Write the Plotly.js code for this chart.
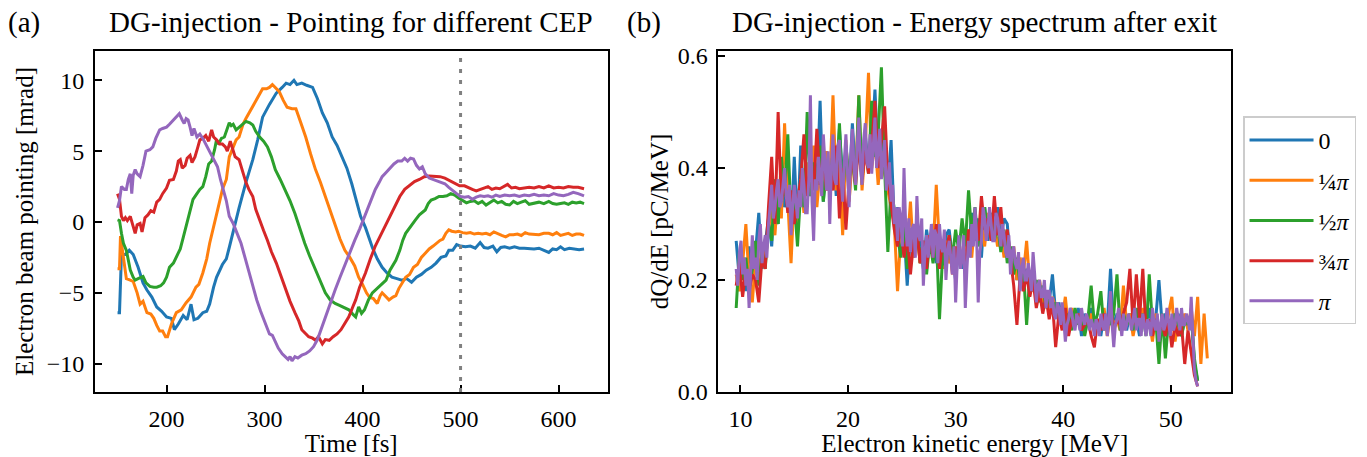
<!DOCTYPE html>
<html><head><meta charset="utf-8">
<script src="https://cdn.plot.ly/plotly-3.0.1.min.js"></script>
<style>html,body{margin:0;padding:0;background:#fff;} #chart{width:1367px;height:457px;}</style>
</head><body><div id="chart"></div>
<script>
// ---------- (a) pointing vs time ----------
const time0 = [150,152,154,158,162,166,171,176,180,185, 190,195,200,205,208,212,217,221,225,228, 232,237,241,244,248,251,257,261,264,268, 274,281,288,293,298,305,312,318,322,326, 330,333,338,343,349,354,359,364,369,374, 379,384,389,394,398,403,410,415,420,425, 430,435,440,445,450,455,460,465,470,475, 480,485,488,492,496,500,505,510,515,520, 524,528,533,537,541,545,550,555,560,565, 570,575,580,585,590,594,598,602,606,611, 616,621,626];
const point0 = [-6.4,-6.4,-2.3,-2.3,-2.0,-2.3,-3.2,-4.3,-4.8,-5.3, -6.0,-6.3,-6.7,-6.8,-7.6,-7.2,-6.6,-6.9,-5.8,-6.9, -6.8,-6.4,-6.3,-5.8,-4.6,-3.9,-3.0,-2.6,-1.8,-0.6, 1.0,2.8,4.4,5.8,7.4,8.3,9.1,9.5,9.8,9.7, 10.0,9.7,9.8,9.65,9.5,8.7,7.7,7.0,6.0,5.4, 4.6,3.8,2.7,1.4,0.4,-0.4,-1.8,-2.6,-3.2,-3.6, -3.9,-4.0,-4.1,-4.0,-4.25,-3.9,-3.7,-3.4,-3.2,-2.9, -2.5,-2.4,-2.0,-2.0,-1.6,-1.7,-1.75,-1.7,-1.85,-1.45, -1.8,-1.85,-1.7,-2.1,-1.8,-1.75,-1.85,-1.75,-1.85,-1.85, -1.9,-1.9,-1.85,-2.0,-2.15,-1.9,-1.95,-1.75,-1.95,-1.85, -1.9,-1.95,-1.9];

const time1 = [150,152,153,156,159,163,166,170,173,176, 180,184,187,190,193,196,199,201,205,210, 215,220,225,230,233,237,241,244,248,251, 254,257,261,264,268,271,274,278,281,285, 290,295,298,302,305,308,312,315,319,323, 328,332,337,342,347,352,357,362,367,372, 377,382,387,392,396,400,404,407,411,415, 418,420,424,427,431,434,437,441,444,448, 452,456,460,464,468,472,475,479,482,485, 488,491,495,498,502,506,510,514,518,522, 526,530,534,538,542,546,550,554,558,562, 566,570,575,580,585,590,594,598,602,606, 610,614,618,622,626];
const point1 = [-3.3,-3.3,-1.0,-2.5,-4.0,-4.1,-4.2,-5.0,-5.8,-5.6, -6.4,-6.5,-6.8,-7.3,-7.7,-7.7,-8.1,-8.1,-7.2,-6.4, -6.2,-5.7,-5.3,-4.6,-4.4,-3.6,-2.6,-1.5,-0.4,0.6, 1.4,2.3,3.0,4.6,5.3,5.8,6.0,6.9,7.3,7.8, 8.4,9.1,9.4,9.4,9.5,9.7,9.4,9.2,8.6,8.1, 8.0,8.0,7.0,6.0,4.8,3.7,2.8,1.8,0.7,-0.3, -1.2,-2.0,-2.5,-3.1,-3.9,-4.4,-5.0,-5.3,-5.4,-5.75, -5.2,-5.0,-5.3,-5.5,-5.3,-5.2,-4.7,-4.2,-3.9,-3.7, -3.2,-3.0,-2.5,-2.2,-1.9,-1.7,-1.5,-1.3,-1.2,-0.8, -0.55,-0.65,-0.7,-0.65,-0.75,-0.8,-0.75,-0.85,-0.8,-0.85, -0.8,-0.9,-0.7,-0.85,-0.95,-1.05,-0.9,-0.9,-0.85,-0.95, -0.75,-0.85,-0.85,-0.9,-0.8,-0.8,-0.9,-0.75,-0.95,-0.9, -0.8,-0.95,-0.85,-0.85,-0.95];

const time2 = [150,152,154,156,159,161,163,166,168,171, 174,176,179,183,187,190,194,197,200,203, 207,210,214,217,220,224,227,231,234,237, 240,243,246,249,251,253,256,259,262,264, 266,268,271,274,277,281,285,288,291,295, 299,303,307,311,316,321,326,331,336,341, 346,352,357,362,367,372,377,382,386,390, 393,396,399,402,406,410,413,417,421,424, 428,431,434,438,441,444,448,451,454,458, 461,464,467,470,474,478,482,486,490,494, 498,502,506,510,514,518,522,526,530,534, 538,542,546,550,554,558,562,566,570,575, 580,585,590,594,598,602,606,610,614,618, 622,626];
const point2 = [0.15,0.1,-0.8,-1.5,-2.0,-2.8,-3.4,-3.9,-4.1,-4.0, -3.9,-3.85,-4.3,-4.55,-4.6,-4.6,-4.5,-4.3,-3.9,-3.2, -2.9,-2.45,-1.9,-1.1,-0.3,0.8,1.6,2.0,2.3,2.5, 3.2,4.1,4.3,5.1,5.8,5.5,5.9,6.0,6.6,7.0, 6.8,6.9,6.5,6.7,6.9,7.1,7.0,6.85,6.4,6.0, 5.7,5.3,4.6,3.7,3.0,2.3,1.5,0.6,-0.5,-1.5, -2.4,-3.4,-4.2,-5.0,-5.5,-5.75,-5.9,-6.1,-6.2,-6.5, -6.7,-6.0,-6.45,-6.2,-5.5,-5.0,-4.8,-4.5,-4.3,-4.1, -3.4,-3.0,-2.7,-2.0,-1.3,-0.8,-0.4,-0.1,0.15,0.5, 0.7,0.85,1.3,1.55,1.65,1.8,1.8,1.85,2.0,1.9, 1.7,1.55,1.35,1.45,1.5,1.3,1.45,1.2,1.4,1.55, 1.35,1.45,1.25,1.2,1.45,1.3,1.4,1.5,1.25,1.35, 1.4,1.3,1.45,1.3,1.25,1.3,1.35,1.25,1.4,1.35, 1.4,1.3];

const time3 = [150,152,154,156,158,160,163,166,168,170, 173,175,178,181,184,187,190,193,196,200, 203,207,210,212,214,216,219,221,224,226, 229,232,234,237,240,243,246,248,251,254, 257,260,262,265,268,270,274,277,281,284, 288,291,295,299,303,307,312,316,321,326, 331,335,338,342,345,349,352,355,359,362, 366,370,374,378,382,386,390,393,397,400, 403,408,413,418,423,428,433,438,443,448, 453,458,463,468,474,479,484,489,494,499, 504,508,512,516,520,524,528,532,536,540, 545,548,552,556,560,565,570,575,580,585, 590,595,600,605,610,615,620,626];
const point3 = [2.0,1.6,0.4,0.1,0.3,0.1,0.4,-0.3,-0.8,-0.2, -0.1,-0.7,0.3,0.5,0.8,0.7,1.4,1.6,2.0,2.4, 2.95,3.0,3.6,4.3,4.4,3.8,4.0,4.5,4.7,4.2, 4.6,5.3,5.8,5.9,6.1,5.7,6.5,6.0,5.8,5.5, 5.5,5.3,5.0,5.7,5.0,4.6,4.4,3.7,2.8,2.3, 1.8,0.9,0.1,-0.6,-1.3,-2.1,-2.9,-3.7,-4.7,-5.6, -6.4,-7.0,-7.6,-7.9,-8.1,-8.2,-8.35,-8.1,-8.6,-8.3, -8.35,-8.1,-7.9,-7.6,-7.1,-6.7,-6.0,-5.5,-4.6,-4.1, -3.6,-2.6,-1.7,-1.0,-0.3,0.4,1.1,1.8,2.3,2.6, 2.85,3.0,3.2,3.25,3.25,3.2,3.1,2.9,2.7,2.55, 2.55,2.4,2.3,2.2,2.3,2.4,2.5,2.3,2.4,2.35, 2.55,2.65,2.4,2.45,2.35,2.4,2.45,2.4,2.5,2.4, 2.55,2.4,2.45,2.4,2.5,2.45,2.45,2.35];

const time4 = [150,152,154,157,159,161,163,164.5,166,168, 170,173,176,179,183,186,189,193,196,200, 203,207,210,213,216,218,220,222,224,226, 228,231,234,237,240,243,246,249,252,255, 258,261,264,268,272,276,280,284,288,292, 296,300,303,305,308,311,314,318,321,324, 326,328,331,334,338,342,346,350,354,358, 362,367,372,377,382,387,392,397,401,405, 409,413,417,420,424,428,432,436,440,443, 446,449,452,455,458,461,464,468,472,476, 480,484,488,492,496,500,504,508,512,516, 520,524,528,532,536,540,545,550,555,560, 565,570,575,580,585,590,595,600,605,610, 615,620,626];
const point4 = [1.0,1.5,2.5,2.3,2.3,3.0,3.4,2.0,3.3,3.7, 3.4,3.2,4.0,5.0,5.1,5.3,5.9,6.5,6.6,6.7, 6.9,7.2,7.4,7.65,7.2,6.95,7.3,7.2,6.7,6.1, 6.6,6.0,6.2,5.9,5.5,5.1,4.6,4.3,3.9,3.0, 2.2,1.5,0.4,-0.1,-0.8,-1.5,-2.5,-3.5,-4.5,-5.5, -6.3,-7.0,-7.6,-7.9,-8.0,-8.5,-8.9,-9.3,-9.5,-9.7, -9.5,-9.8,-9.5,-9.6,-9.4,-9.3,-9.1,-8.8,-8.3,-7.5, -6.7,-5.7,-4.8,-3.9,-3.0,-2.1,-1.3,-0.5,0.2,0.8, 1.6,2.3,2.8,3.2,3.5,3.8,4.1,4.3,4.3,4.5, 4.3,4.5,4.45,4.0,3.75,3.9,3.4,3.1,3.0,2.9, 2.8,2.7,2.45,2.2,2.0,1.8,1.75,1.8,1.6,1.75, 1.85,1.8,1.85,1.75,1.9,1.8,1.9,1.85,1.9,1.8, 1.9,1.85,1.95,1.85,1.9,1.85,2.0,1.9,1.85,1.95, 2.1,2.0,1.85];

const exitTime = 500;

// ---------- (b) energy spectra ----------
const energy = [9.6,9.9,10.2,10.5,10.8,11.1,11.4,11.7,12.0,12.3, 12.6,12.9,13.2,13.5,13.8,14.1,14.4,14.7,15.0,15.3, 15.6,15.9,16.2,16.5,16.8,17.1,17.4,17.7,18.0,18.3, 18.6,18.9,19.2,19.5,19.8,20.1,20.4,20.7,21.0,21.3, 21.6,21.9,22.2,22.5,22.8,23.1,23.4,23.7,24.0,24.3, 24.6,24.9,25.2,25.5,25.8,26.1,26.4,26.7,27.0,27.3, 27.6,27.9,28.2,28.5,28.8,29.1,29.4,29.7,30.0,30.3, 30.6,30.9,31.2,31.5,31.8,32.1,32.4,32.7,33.0,33.3, 33.6,33.9,34.2,34.5,34.8,35.1,35.4,35.7,36.0,36.3, 36.6,36.9,37.2,37.5,37.8,38.1,38.4,38.7,39.0,39.3, 39.6,39.9,40.2,40.5,40.8,41.1,41.4,41.7,42.0,42.3, 42.6,42.9,43.2,43.5,43.8,44.1,44.4,44.7,45.0,45.3, 45.6,45.9,46.2,46.5,46.8,47.1,47.4,47.7,48.0,48.3, 48.6,48.9,49.2,49.5,49.8,50.1,50.4,50.7,51.0,51.3, 51.6,51.9,52.2,52.5,52.8,53.1,53.4];

const energyFine = [9.6,9.75,9.9,10.05,10.2,10.35,10.5,10.65,10.8,10.95,11.1,11.25,11.4,11.55,11.7,11.85,12.0,12.15,12.3,12.45,
 12.6,12.75,12.9,13.05,13.2,13.35,13.5,13.65,13.8,13.95,14.1,14.25,14.4,14.55,14.7,14.85,15.0,15.15,15.3,15.45,
 15.6,15.75,15.9,16.05,16.2,16.35,16.5,16.65,16.8,16.95,17.1,17.25,17.4,17.55,17.7,17.85,18.0,18.15,18.3,18.45,
 18.6,18.75,18.9,19.05,19.2,19.35,19.5,19.65,19.8,19.95,20.1,20.25,20.4,20.55,20.7,20.85,21.0,21.15,21.3,21.45,
 21.6,21.75,21.9,22.05,22.2,22.35,22.5,22.65,22.8,22.95,23.1,23.25,23.4,23.55,23.7,23.85,24.0,24.15,24.3,24.45,
 24.6,24.75,24.9,25.05,25.2,25.35,25.5,25.65,25.8,25.95,26.1,26.25,26.4,26.55,26.7,26.85,27.0,27.15,27.3,27.45,
 27.6,27.75,27.9,28.05,28.2,28.35,28.5,28.65,28.8,28.95,29.1,29.25,29.4,29.55,29.7,29.85,30.0,30.15,30.3,30.45,
 30.6,30.75,30.9,31.05,31.2,31.35,31.5,31.65,31.8,31.95,32.1,32.25,32.4,32.55,32.7,32.85,33.0,33.15,33.3,33.45,
 33.6,33.75,33.9,34.05,34.2,34.35,34.5,34.65,34.8,34.95,35.1,35.25,35.4,35.55,35.7,35.85,36.0,36.15,36.3,36.45,
 36.6,36.75,36.9,37.05,37.2,37.35,37.5,37.65,37.8,37.95,38.1,38.25,38.4,38.55,38.7,38.85,39.0,39.15,39.3,39.45,
 39.6,39.75,39.9,40.05,40.2,40.35,40.5,40.65,40.8,40.95,41.1,41.25,41.4,41.55,41.7,41.85,42.0,42.15,42.3,42.45,
 42.6,42.75,42.9,43.05,43.2,43.35,43.5,43.65,43.8,43.95,44.1,44.25,44.4,44.55,44.7,44.85,45.0,45.15,45.3,45.45,
 45.6,45.75,45.9,46.05,46.2,46.35,46.5,46.65,46.8,46.95,47.1,47.25,47.4,47.55,47.7,47.85,48.0,48.15,48.3,48.45,
 48.6,48.75,48.9,49.05,49.2,49.35,49.5,49.65,49.8,49.95,50.1,50.25,50.4,50.55,50.7,50.85,51.0,51.15,51.3,51.45,
 51.6,51.75,51.9,52.05,52.2,52.35,52.5];

const spec0 = [0.27,0.20,0.24,0.18,0.26,0.21,0.25,0.32,0.22,0.27, 0.31,0.26,0.36,0.30,0.40,0.33,0.37,0.28,0.42,0.29, 0.44,0.33,0.40,0.35,0.43,0.36,0.52,0.34,0.42,0.36, 0.44,0.35,0.47,0.38,0.43,0.36,0.48,0.39,0.44,0.37, 0.46,0.40,0.44,0.54,0.41,0.47,0.40,0.36,0.45,0.30, 0.33,0.25,0.29,0.19,0.28,0.24,0.31,0.26,0.22,0.29, 0.25,0.30,0.23,0.27,0.22,0.28,0.29,0.24,0.20,0.26, 0.22,0.28,0.25,0.32,0.27,0.31,0.24,0.33,0.27,0.31, 0.28,0.33,0.27,0.31,0.30,0.23,0.25,0.20,0.23,0.19, 0.22,0.18,0.21,0.17,0.19,0.15,0.18,0.16,0.21,0.14, 0.16,0.12,0.15,0.11,0.14,0.12,0.15,0.10,0.14,0.12, 0.15,0.11,0.13,0.10,0.14,0.12,0.22,0.11,0.14,0.12, 0.15,0.11,0.14,0.12,0.13,0.10,0.14,0.12,0.15,0.11, 0.13,0.20,0.12,0.14,0.11,0.13,0.12,0.14,0.10,0.13, 0.12,0.14,0.05,0.02];
const spec1 = [0.21,0.18,0.23,0.30,0.20,0.16,0.24,0.21,0.26,0.23, 0.29,0.33,0.28,0.36,0.31,0.48,0.34,0.23,0.36,0.30, 0.38,0.32,0.41,0.36,0.44,0.33,0.40,0.35,0.43,0.37, 0.53,0.36,0.41,0.28,0.45,0.34,0.42,0.38,0.53,0.36, 0.44,0.57,0.40,0.45,0.37,0.43,0.39,0.36,0.33,0.30, 0.18,0.28,0.33,0.26,0.34,0.24,0.29,0.23,0.27,0.22, 0.28,0.25,0.37,0.26,0.22,0.27,0.23,0.25,0.21,0.27, 0.23,0.26,0.29,0.24,0.31,0.27,0.30,0.26,0.32,0.28, 0.30,0.26,0.29,0.24,0.28,0.23,0.26,0.20,0.24,0.21, 0.27,0.19,0.22,0.17,0.20,0.16,0.18,0.14,0.17,0.15, 0.14,0.13,0.17,0.11,0.15,0.12,0.14,0.11,0.13,0.12, 0.14,0.11,0.13,0.12,0.15,0.10,0.14,0.12,0.13,0.11, 0.19,0.12,0.14,0.10,0.13,0.12,0.15,0.11,0.13,0.09, 0.14,0.11,0.13,0.10,0.14,0.17,0.09,0.13,0.11,0.14, 0.11,0.15,0.10,0.17,0.05,0.14,0.06];
const spec2 = [0.15,0.25,0.20,0.24,0.18,0.22,0.27,0.19,0.25,0.22, 0.30,0.27,0.38,0.30,0.42,0.35,0.46,0.31,0.34,0.26, 0.36,0.33,0.50,0.35,0.41,0.37,0.44,0.34,0.40,0.36, 0.43,0.37,0.48,0.35,0.44,0.38,0.42,0.36,0.53,0.38, 0.45,0.39,0.52,0.42,0.46,0.58,0.40,0.25,0.37,0.32, 0.28,0.24,0.30,0.22,0.29,0.25,0.30,0.23,0.27,0.21, 0.27,0.23,0.28,0.13,0.25,0.22,0.28,0.24,0.29,0.25, 0.31,0.26,0.36,0.28,0.33,0.26,0.30,0.33,0.28,0.32, 0.27,0.30,0.25,0.29,0.23,0.26,0.21,0.24,0.19,0.22, 0.12,0.21,0.18,0.20,0.16,0.19,0.15,0.17,0.14,0.16, 0.13,0.15,0.12,0.14,0.11,0.15,0.12,0.14,0.10,0.13, 0.19,0.12,0.14,0.18,0.11,0.13,0.12,0.14,0.21,0.11, 0.14,0.12,0.13,0.11,0.15,0.12,0.14,0.10,0.21,0.12, 0.13,0.05,0.14,0.06,0.13,0.11,0.14,0.12,0.10,0.13, 0.12,0.14,0.06,0.02];
const spec3 = [0.19,0.23,0.17,0.22,0.18,0.21,0.20,0.16,0.24,0.22, 0.33,0.42,0.30,0.50,0.34,0.38,0.32,0.36,0.30,0.34, 0.38,0.46,0.35,0.40,0.36,0.47,0.37,0.42,0.36,0.40, 0.36,0.44,0.31,0.40,0.29,0.38,0.42,0.37,0.45,0.38, 0.43,0.39,0.44,0.52,0.40,0.45,0.51,0.38,0.33,0.29, 0.26,0.30,0.24,0.28,0.21,0.27,0.29,0.23,0.27,0.22, 0.28,0.24,0.30,0.22,0.27,0.25,0.28,0.21,0.26,0.23, 0.25,0.22,0.29,0.26,0.31,0.27,0.35,0.29,0.31,0.27, 0.35,0.28,0.33,0.26,0.29,0.24,0.19,0.12,0.21,0.18, 0.21,0.17,0.20,0.15,0.18,0.14,0.17,0.13,0.16,0.08, 0.14,0.11,0.15,0.10,0.13,0.12,0.14,0.11,0.12,0.13, 0.10,0.08,0.13,0.11,0.14,0.12,0.15,0.11,0.13,0.12, 0.14,0.16,0.22,0.12,0.21,0.13,0.22,0.11,0.13,0.10, 0.13,0.11,0.12,0.10,0.13,0.08,0.12,0.10,0.12,0.05, 0.11,0.07,0.03,0.01];
// π series, read at finer energy resolution (energyFine)
const spec4 = [0.22,0.19,0.25,0.27,0.21,0.24,0.19,0.22,0.15,0.21,0.28,0.22,0.24,0.20,0.27,0.30,0.23,0.26,0.28,0.24,
 0.30,0.33,0.37,0.31,0.33,0.36,0.38,0.33,0.34,0.37,0.40,0.35,0.33,0.37,0.28,0.33,0.37,0.34,0.31,0.36,
 0.33,0.40,0.37,0.32,0.32,0.38,0.53,0.34,0.27,0.38,0.36,0.42,0.39,0.35,0.46,0.40,0.36,0.43,0.30,0.40,
 0.46,0.38,0.37,0.44,0.45,0.38,0.34,0.41,0.46,0.39,0.33,0.42,0.47,0.40,0.37,0.44,0.49,0.41,0.37,0.45,
 0.48,0.41,0.40,0.46,0.39,0.44,0.49,0.40,0.43,0.47,0.38,0.42,0.45,0.36,0.38,0.41,0.34,0.37,0.30,0.33,
 0.27,0.33,0.31,0.26,0.40,0.30,0.26,0.31,0.25,0.29,0.30,0.24,0.35,0.28,0.27,0.31,0.19,0.25,0.28,0.24,
 0.27,0.30,0.24,0.29,0.28,0.23,0.30,0.26,0.25,0.29,0.20,0.25,0.27,0.24,0.21,0.26,0.16,0.23,0.28,0.22,
 0.24,0.28,0.15,0.22,0.27,0.24,0.30,0.26,0.33,0.28,0.16,0.25,0.27,0.33,0.31,0.27,0.29,0.33,0.30,0.27,
 0.27,0.32,0.31,0.28,0.26,0.30,0.28,0.25,0.24,0.28,0.21,0.25,0.26,0.23,0.22,0.25,0.18,0.22,0.24,0.20,
 0.20,0.23,0.21,0.18,0.25,0.21,0.16,0.19,0.20,0.17,0.17,0.20,0.15,0.18,0.18,0.15,0.17,0.14,0.13,0.16,
 0.15,0.12,0.16,0.13,0.09,0.12,0.13,0.15,0.14,0.12,0.11,0.14,0.13,0.11,0.15,0.13,0.12,0.14,0.13,0.11,
 0.13,0.12,0.10,0.13,0.12,0.10,0.14,0.12,0.11,0.14,0.10,0.13,0.18,0.12,0.08,0.12,0.13,0.15,0.12,0.10,
 0.14,0.11,0.12,0.14,0.13,0.11,0.13,0.15,0.11,0.13,0.13,0.10,0.14,0.12,0.10,0.13,0.12,0.10,0.15,0.12,
 0.11,0.14,0.09,0.12,0.14,0.11,0.12,0.15,0.12,0.10,0.14,0.11,0.12,0.15,0.13,0.11,0.15,0.12,0.12,0.14,
 0.13,0.11,0.17,0.10,0.04,0.02,0.01];

const cepLabels = ['0', '¼<i>π</i>', '½<i>π</i>', '¾<i>π</i>', '<i>π</i>'];
const seriesColors = ['#1f77b4', '#ff7f0e', '#2ca02c', '#d62728', '#9467bd'];

const times = [time0, time1, time2, time3, time4];
const points = [point0, point1, point2, point3, point4];
const spectra = [spec0, spec1, spec2, spec3, spec4];
const spectraX = [energy, energy, energy, energy, energyFine];

const FONT = 'Liberation Serif, Times New Roman, serif';
const traces = [];
for (let i = 0; i < 5; i++) {
  traces.push({
    type: 'scatter', mode: 'lines', x: times[i], y: points[i], xaxis: 'x', yaxis: 'y',
    name: cepLabels[i], legendgroup: 'g' + i, showlegend: true,
    line: {color: seriesColors[i], width: 3}
  });
}
for (let i = 0; i < 5; i++) {
  traces.push({
    type: 'scatter', mode: 'lines', x: spectraX[i].slice(0, spectra[i].length), y: spectra[i],
    xaxis: 'x2', yaxis: 'y2', name: cepLabels[i], legendgroup: 'g' + i, showlegend: false,
    line: {color: seriesColors[i], width: 3}
  });
}

const axisBase = {
  showline: true, linecolor: 'black', linewidth: 2, mirror: true,
  ticks: 'inside', ticklen: 7, tickwidth: 1.5, tickcolor: 'black',
  showgrid: false, zeroline: false,
  tickfont: {family: FONT, size: 24, color: 'black'},
  ticklabelstandoff: 4
};
const titleFont = {family: FONT, size: 25, color: 'black'};
const headFont = {family: FONT, size: 29, color: 'black'};

const layout = {
  width: 1367, height: 457,
  margin: {l: 95, r: 135, t: 51, b: 65},
  paper_bgcolor: 'white', plot_bgcolor: 'white',
  font: {family: FONT, color: 'black'},
  showlegend: true,
  legend: {
    x: 1.0097, y: 0.808, xanchor: 'left', yanchor: 'top',
    bordercolor: '#cccccc', borderwidth: 1.5, bgcolor: 'white',
    font: {family: FONT, size: 24, color: 'black'},
    itemwidth: 64, tracegroupgap: 6
  },
  xaxis: Object.assign({}, axisBase, {
    domain: [0, 0.4512], range: [127, 650], tickvals: [200, 300, 400, 500, 600],
    title: {text: 'Time [fs]', font: titleFont, standoff: 3}
  }),
  yaxis: Object.assign({}, axisBase, {
    range: [-12, 12.07], tickvals: [-10, -5, 0, 5, 10],
    title: {text: 'Electron beam pointing [mrad]', font: titleFont, standoff: 6}
  }),
  xaxis2: Object.assign({}, axisBase, {
    domain: [0.5488, 1], anchor: 'y2', range: [7.95, 55.6], tickvals: [10, 20, 30, 40, 50],
    title: {text: 'Electron kinetic energy [MeV]', font: titleFont, standoff: 3}
  }),
  yaxis2: Object.assign({}, axisBase, {
    anchor: 'x2', range: [0, 0.609], tickvals: [0, 0.2, 0.4, 0.6], tickformat: '.1f',
    title: {text: 'dQ/dE [pC/MeV]', font: titleFont, standoff: 2}
  }),
  shapes: [{
    type: 'line', xref: 'x', yref: 'y domain', x0: exitTime, x1: exitTime, y0: 0, y1: 1,
    line: {color: '#808080', width: 3, dash: '4px,7px'}
  }],
  annotations: [
    {text: '(a)', xref: 'paper', yref: 'paper', x: -0.0624, y: 1.085, xanchor: 'center', yanchor: 'middle', showarrow: false, font: headFont},
    {text: 'DG-injection - Pointing for different CEP', xref: 'paper', yref: 'paper', x: 0.2256, y: 1.085, xanchor: 'center', yanchor: 'middle', showarrow: false, font: headFont},
    {text: '(b)', xref: 'paper', yref: 'paper', x: 0.4837, y: 1.085, xanchor: 'center', yanchor: 'middle', showarrow: false, font: headFont},
    {text: 'DG-injection - Energy spectrum after exit', xref: 'paper', yref: 'paper', x: 0.7744, y: 1.085, xanchor: 'center', yanchor: 'middle', showarrow: false, font: headFont}
  ]
};

Plotly.newPlot('chart', traces, layout, {displayModeBar: false, responsive: false});
</script>
</body></html>
